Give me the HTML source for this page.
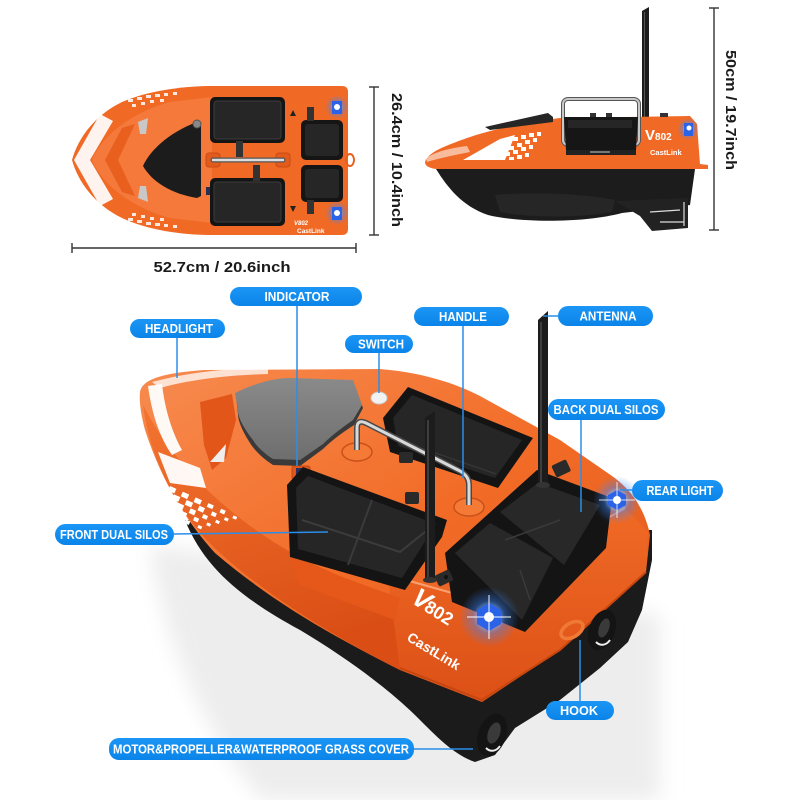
<!DOCTYPE html>
<html><head><meta charset="utf-8">
<style>
html,body{margin:0;padding:0;background:#fff;}
svg{display:block;}
.lbl{font-family:"Liberation Sans",sans-serif;font-weight:bold;font-size:12.5px;fill:#fff;}
.dim{font-family:"Liberation Sans",sans-serif;font-weight:bold;font-size:15px;fill:#1a1a1a;}
.logo{font-family:"Liberation Sans",sans-serif;font-weight:bold;fill:#fff;}
</style></head><body>
<svg width="800" height="800" viewBox="0 0 800 800" xmlns="http://www.w3.org/2000/svg">
<defs>
<linearGradient id="body" x1="0" y1="0" x2="1" y2="1">
 <stop offset="0" stop-color="#f78b50"/>
 <stop offset="0.5" stop-color="#f26c27"/>
 <stop offset="1" stop-color="#e0561b"/>
</linearGradient>
<linearGradient id="side" x1="0" y1="0" x2="0.3" y2="1">
 <stop offset="0" stop-color="#f3732f"/>
 <stop offset="1" stop-color="#d94d14"/>
</linearGradient>
<linearGradient id="stern" x1="0" y1="0" x2="0" y2="1">
 <stop offset="0" stop-color="#f06a26"/>
 <stop offset="1" stop-color="#dc5016"/>
</linearGradient>
<radialGradient id="glow">
 <stop offset="0" stop-color="#ffffff" stop-opacity="1"/>
 <stop offset="0.2" stop-color="#bfe0ff" stop-opacity="0.95"/>
 <stop offset="0.55" stop-color="#3a86ff" stop-opacity="0.4"/>
 <stop offset="1" stop-color="#3a86ff" stop-opacity="0"/>
</radialGradient>
<linearGradient id="pill" x1="0" y1="0" x2="0" y2="1">
 <stop offset="0" stop-color="#1b96f6"/>
 <stop offset="1" stop-color="#0a84e8"/>
</linearGradient>
<linearGradient id="grey" x1="0" y1="0" x2="0" y2="1">
 <stop offset="0" stop-color="#8a8a8a"/>
 <stop offset="1" stop-color="#6e6e6e"/>
</linearGradient>
<filter id="blur" x="-20%" y="-20%" width="140%" height="140%"><feGaussianBlur stdDeviation="10"/></filter>
</defs>

<rect width="800" height="800" fill="#fff"/>

<!-- ============ TOP VIEW ============ -->
<g>
<path d="M72,160 C78,138 95,115 122,102 C150,90 185,86 213,86 L342,86 Q348,86 348,92 L348,229 Q348,235 342,235 L213,235 C185,235 150,231 122,218 C95,205 78,182 72,160 Z" fill="#f06a26"/>
<path d="M92,160 C102,136 130,113 170,102 L212,97 L212,223 L170,218 C130,207 102,184 92,160 Z" fill="#f4793a"/>
<path d="M105,160 L122,128 L135,124 L118,160 L135,196 L122,192 Z" fill="#e85f1e"/>
<path d="M100,114 L74,160 L100,206 L113,199 L90,160 L113,121 Z" fill="#fff" opacity="0.92"/>
<path d="M138,122 L148,118 L146,134 L140,134 Z" fill="#c8c8c8"/>
<path d="M138,198 L148,202 L146,186 L140,186 Z" fill="#c8c8c8"/>
<g fill="#fff" opacity="0.85">
 <rect x="128" y="99" width="5" height="3"/><rect x="137" y="97" width="5" height="3"/><rect x="146" y="95" width="5" height="3"/><rect x="155" y="94" width="5" height="3"/><rect x="164" y="93" width="4" height="3"/><rect x="173" y="92" width="4" height="3"/>
 <rect x="132" y="104" width="4" height="3"/><rect x="141" y="102" width="4" height="3"/><rect x="150" y="100" width="4" height="3"/><rect x="160" y="99" width="4" height="3"/>
 <rect x="128" y="218" width="5" height="3"/><rect x="137" y="220" width="5" height="3"/><rect x="146" y="222" width="5" height="3"/><rect x="155" y="223" width="5" height="3"/><rect x="164" y="224" width="4" height="3"/><rect x="173" y="225" width="4" height="3"/>
 <rect x="132" y="213" width="4" height="3"/><rect x="141" y="215" width="4" height="3"/><rect x="150" y="217" width="4" height="3"/><rect x="160" y="218" width="4" height="3"/>
</g>
<path d="M143,166 C150,150 170,132 197,122 L201,124 L201,196 L197,198 C172,194 152,182 143,166 Z" fill="#1c1c1c"/>
<circle cx="197" cy="124" r="4" fill="#888" stroke="#555" stroke-width="1"/>
<rect x="206" y="187" width="5" height="8" fill="#2a3050"/>
<rect x="210" y="97" width="75" height="46" rx="5" fill="#151515"/>
<rect x="214" y="101" width="67" height="38" rx="3" fill="#262626" stroke="#3c3c3c"/>
<rect x="210" y="178" width="75" height="48" rx="5" fill="#151515"/>
<rect x="214" y="182" width="67" height="40" rx="3" fill="#262626" stroke="#3c3c3c"/>
<rect x="236" y="141" width="7" height="16" fill="#333"/>
<rect x="253" y="165" width="7" height="16" fill="#333"/>
<rect x="206" y="153" width="14" height="14" rx="3" fill="#e25a1c" stroke="#c84c14"/>
<rect x="276" y="153" width="14" height="14" rx="3" fill="#e25a1c" stroke="#c84c14"/>
<line x1="213" y1="160" x2="283" y2="160" stroke="#555" stroke-width="5" stroke-linecap="round"/>
<line x1="213" y1="160" x2="283" y2="160" stroke="#ddd" stroke-width="2.5" stroke-linecap="round"/>
<rect x="301" y="120" width="42" height="40" rx="5" fill="#151515"/>
<rect x="305" y="124" width="34" height="32" rx="3" fill="#262626"/>
<rect x="301" y="165" width="42" height="37" rx="5" fill="#151515"/>
<rect x="305" y="169" width="34" height="29" rx="3" fill="#262626"/>
<rect x="307" y="107" width="7" height="14" fill="#333"/>
<rect x="307" y="200" width="7" height="14" fill="#333"/>
<path d="M290,116 L296,116 L293,110 Z" fill="#222"/>
<path d="M290,206 L296,206 L293,212 Z" fill="#222"/>
<ellipse cx="350" cy="160" rx="4" ry="6" fill="none" stroke="#e86020" stroke-width="2"/>
<circle cx="337" cy="107" r="12" fill="url(#glow)"/>
<rect x="332" y="101" width="10" height="13" fill="#2a62e8"/>
<circle cx="337" cy="107" r="3" fill="#fff"/>
<circle cx="337" cy="213" r="12" fill="url(#glow)"/>
<rect x="332" y="207" width="10" height="13" fill="#2a62e8"/>
<circle cx="337" cy="213" r="3" fill="#fff"/>
<text x="294" y="225" class="logo" font-size="6" font-style="italic">V802</text>
<text x="297" y="233" class="logo" font-size="6.5">CastLink</text>
</g>

<g stroke="#333" stroke-width="1.4">
<line x1="72" y1="248" x2="356" y2="248"/>
<line x1="72" y1="243" x2="72" y2="253"/>
<line x1="356" y1="243" x2="356" y2="253"/>
<line x1="374" y1="87" x2="374" y2="235"/>
<line x1="369" y1="87" x2="379" y2="87"/>
<line x1="369" y1="235" x2="379" y2="235"/>
<line x1="714" y1="8" x2="714" y2="230"/>
<line x1="709" y1="8" x2="719" y2="8"/>
<line x1="709" y1="230" x2="719" y2="230"/>
</g>
<text x="222" y="272" class="dim" text-anchor="middle" textLength="137" lengthAdjust="spacingAndGlyphs">52.7cm / 20.6inch</text>
<text transform="translate(392,160) rotate(90)" class="dim" text-anchor="middle" textLength="134" lengthAdjust="spacingAndGlyphs">26.4cm / 10.4inch</text>
<text transform="translate(726,110) rotate(90)" class="dim" text-anchor="middle" textLength="120" lengthAdjust="spacingAndGlyphs">50cm / 19.7inch</text>

<!-- ============ SIDE VIEW ============ -->
<g>
<polygon points="642,11 649,7 649,120 642,120" fill="#1c1c1c"/>
<line x1="644.5" y1="12" x2="644.5" y2="118" stroke="#555" stroke-width="1"/>
<path d="M425,162 C428,152 445,146 467,138 C490,130 525,122 560,118 L690,116 L697,124 L700,164 L708,165 L708,169 L436,169 C429,168 425,166 425,162 Z" fill="#f06a26"/>
<path d="M426,158 C435,152 450,148 467,146 L470,152 C455,155 440,158 427,162 Z" fill="#fff" opacity="0.55"/>
<path d="M436,169 C448,188 462,206 488,215 C520,223 585,223 622,213 L690,205 L695,169 Z" fill="#1c1c1c"/>
<path d="M495,195 C530,192 580,193 615,200 L612,212 C580,218 530,218 500,212 Z" fill="#262626"/>
<polygon points="615,201 688,198 688,228 652,231 640,216" fill="#222"/>
<g stroke="#ddd" stroke-width="1.2"><line x1="650" y1="212" x2="680" y2="210"/><line x1="660" y1="222" x2="684" y2="222"/><line x1="684" y1="202" x2="684" y2="226"/></g>
<path d="M485,127 L548,113 L553,117 L553,122 L490,130 Z" fill="#262626"/>
<path d="M463,160 L500,139 L515,135 L505,160 Z" fill="#fff"/>
<g fill="#fff">
 <rect x="505" y="140" width="5" height="4"/><rect x="513" y="137" width="5" height="4"/><rect x="521" y="135" width="5" height="4"/><rect x="529" y="133" width="5" height="4"/><rect x="537" y="132" width="4" height="4"/>
 <rect x="509" y="146" width="5" height="4"/><rect x="517" y="143" width="5" height="4"/><rect x="525" y="140" width="5" height="4"/><rect x="533" y="138" width="4" height="4"/>
 <rect x="505" y="152" width="5" height="4"/><rect x="513" y="150" width="5" height="4"/><rect x="521" y="147" width="5" height="4"/><rect x="529" y="145" width="4" height="4"/>
 <rect x="509" y="157" width="5" height="3"/><rect x="517" y="155" width="5" height="4"/><rect x="525" y="153" width="4" height="4"/>
</g>
<rect x="563" y="99" width="76" height="46" rx="5" fill="none" stroke="#555" stroke-width="4"/>
<rect x="563" y="99" width="76" height="46" rx="5" fill="none" stroke="#c8c8c8" stroke-width="2"/>
<rect x="590" y="113" width="6" height="5" fill="#333"/><rect x="606" y="113" width="6" height="5" fill="#333"/>
<rect x="660" y="113" width="8" height="4" fill="#333"/>
<polygon points="564,117 638,117 636,150 566,150" fill="#161616"/>
<rect x="568" y="120" width="64" height="8" fill="#262626"/>
<rect x="566" y="150" width="70" height="5" fill="#222"/>
<rect x="590" y="151" width="20" height="2" fill="#777"/>
<circle cx="688" cy="129" r="11" fill="url(#glow)"/>
<rect x="684" y="123" width="9" height="13" fill="#2a62e8"/>
<circle cx="689" cy="128" r="2.5" fill="#fff"/>
<text x="645" y="140" class="logo"><tspan font-size="15">V</tspan><tspan font-size="10">802</tspan></text>
<text x="650" y="155" class="logo" font-size="7.5">CastLink</text>
</g>

<!-- ============ MAIN BOAT ============ -->
<path d="M150,545 C165,650 210,740 262,800 L660,800 L660,615 L560,600 Z" fill="#ededed" filter="url(#blur)"/>
<path d="M185,520 C205,570 245,600 300,630 C350,660 390,690 420,720 C440,740 455,755 475,762 L495,755 L515,728 L560,700 L600,668 L628,642 L642,610 L652,560 L652,530 Z" fill="#1b1b1b"/>
<path d="M140,392 C142,380 160,373 205,370 L380,369 C420,372 455,383 480,396 L560,440 L612,476 C632,490 645,510 650,535 L646,572 L560,650 L482,702 L400,670 C330,635 270,600 215,553 C180,515 158,470 145,430 C141,415 139,402 140,392 Z" fill="url(#body)"/>
<path d="M143,405 C150,460 178,515 220,553 C270,598 335,637 400,670 L402,598 C340,580 285,553 245,522 C200,488 165,448 143,405 Z" fill="url(#side)" opacity="0.95"/>
<path d="M388,575 L470,598 L625,508 L648,532 L646,572 L560,650 L482,702 L400,670 Z" fill="url(#stern)"/>
<path d="M388,575 L470,598 L625,508" fill="none" stroke="#f9a070" stroke-width="2"/>
<path d="M400,668 L482,700 L560,650 L646,572" fill="none" stroke="#c7460f" stroke-width="2"/>
<path d="M290,558 L400,598 L395,620 L300,585 Z" fill="#e5581a"/>
<path d="M148,386 C152,415 160,438 172,455 L182,450 C172,432 165,410 162,384 Z" fill="#fff" opacity="0.95"/>
<path d="M152,382 C190,372 230,368 268,368 L268,374 C230,375 192,379 160,388 Z" fill="#fff" opacity="0.75"/>
<path d="M200,402 L232,394 L236,420 L226,458 L212,470 L204,445 Z" fill="#e2561a"/>
<path d="M210,462 L226,444 L224,462 Z" fill="#eee"/>
<path d="M158,452 L200,468 L206,488 L170,483 Z" fill="#fff" opacity="0.95"/>
<g fill="#fff" transform="translate(170,486) rotate(24)">
 <rect x="0" y="0" width="7" height="5"/><rect x="14" y="0" width="7" height="5"/><rect x="28" y="0" width="7" height="5"/><rect x="42" y="0" width="6" height="4"/><rect x="56" y="0" width="5" height="4"/><rect x="70" y="1" width="4" height="3"/>
 <rect x="7" y="6" width="7" height="5"/><rect x="21" y="6" width="7" height="5"/><rect x="35" y="6" width="6" height="5"/><rect x="49" y="6" width="5" height="4"/><rect x="63" y="6" width="4" height="3"/>
 <rect x="0" y="12" width="7" height="5"/><rect x="14" y="12" width="7" height="5"/><rect x="28" y="12" width="6" height="5"/><rect x="42" y="12" width="5" height="4"/><rect x="56" y="12" width="4" height="3"/>
 <rect x="7" y="18" width="7" height="5"/><rect x="21" y="18" width="6" height="5"/><rect x="35" y="18" width="5" height="4"/><rect x="49" y="18" width="4" height="3"/>
 <rect x="14" y="24" width="6" height="4"/><rect x="28" y="24" width="5" height="4"/><rect x="42" y="24" width="4" height="3"/>
</g>
<path d="M236,396 C255,385 275,379 290,379 L353,381 L363,408 L354,425 C340,434 330,442 323,449 L300,466 L273,465 C262,458 255,450 252,446 C244,434 238,422 238,414 Z" fill="#3a3a3a"/>
<path d="M235,393 C255,383 275,378 290,378 L353,380 L362,405 L353,420 C340,429 330,437 323,444 L300,460 L273,459 C262,452 255,444 253,440 C245,430 238,418 238,411 Z" fill="url(#grey)"/>
<ellipse cx="379" cy="398" rx="8" ry="6" fill="#f2f2f2" stroke="#c9c9c9"/>
<rect x="292" y="466" width="18" height="13" rx="2" fill="#e0561b" stroke="#c04a12"/>
<rect x="296" y="468" width="10" height="9" fill="#2c2f5c"/>
<path d="M383,418 L408,387 L533,438 L498,488 L390,452 Z" fill="#141414"/>
<path d="M393,418 L412,395 L522,440 L495,478 L398,446 Z" fill="#262626"/>
<line x1="398" y1="440" x2="496" y2="474" stroke="#3a3a3a" stroke-width="1"/>
<rect x="399" y="452" width="14" height="11" rx="2" fill="#2a2a2a"/>
<rect x="405" y="492" width="14" height="12" rx="2" fill="#2a2a2a"/>
<ellipse cx="357" cy="452" rx="15" ry="9" fill="#f47a35" stroke="#c9501a" stroke-width="1.5"/>
<ellipse cx="469" cy="507" rx="15" ry="9" fill="#f47a35" stroke="#c9501a" stroke-width="1.5"/>
<path d="M357,450 L357,428 Q357,419 366,423 L460,471 Q469,476 469,485 L469,505" fill="none" stroke="#4a4a4a" stroke-width="6"/>
<path d="M357,450 L357,428 Q357,419 366,423 L460,471 Q469,476 469,485 L469,505" fill="none" stroke="#d9d9d9" stroke-width="3"/>
<path d="M287,485 L303,467 L447,520 L442,537 L405,590 L290,557 Z" fill="#141414"/>
<path d="M296,488 L308,476 L436,524 L402,578 L298,549 Z" fill="#262626"/>
<path d="M302,520 L400,552 L430,528" fill="none" stroke="#3c3c3c" stroke-width="2"/>
<line x1="372" y1="500" x2="348" y2="565" stroke="#3a3a3a" stroke-width="2"/>
<path d="M445,553 L537,470 L612,498 L606,548 L525,632 L452,602 Z" fill="#141414"/>
<path d="M500,512 L538,483 L600,505 L564,565 Z" fill="#282828"/>
<path d="M455,553 L490,523 L553,558 L522,620 Z" fill="#282828"/>
<path d="M505,540 L560,520 M520,570 L530,600" stroke="#3a3a3a" stroke-width="1.5" fill="none"/>
<rect x="553" y="462" width="16" height="13" rx="2" fill="#2a2a2a" transform="rotate(-25 561 468)"/>
<rect x="436" y="572" width="16" height="12" rx="2" fill="#2a2a2a" transform="rotate(-25 444 578)"/>
<circle cx="446" cy="577" r="2" fill="#111"/>
<polygon points="538,320 548,311 548,485 538,485" fill="#1c1c1c"/>
<line x1="541" y1="322" x2="541" y2="483" stroke="#555" stroke-width="1.2"/>
<ellipse cx="543" cy="485" rx="7" ry="3" fill="#333"/>
<polygon points="425,418 435,411 435,580 425,580" fill="#1c1c1c"/>
<line x1="428" y1="420" x2="428" y2="578" stroke="#555" stroke-width="1.2"/>
<ellipse cx="430" cy="580" rx="7" ry="3" fill="#333"/>
<text transform="translate(410,602) rotate(32)" class="logo"><tspan font-size="26" font-style="italic">V</tspan><tspan font-size="18" dx="-2">802</tspan></text>
<text transform="translate(406,640) rotate(31)" class="logo" font-size="14">CastLink</text>
<ellipse cx="572" cy="630" rx="12" ry="7" fill="none" stroke="#f07a35" stroke-width="3.5" transform="rotate(-30 572 630)"/>
<ellipse cx="492" cy="735" rx="14" ry="22" fill="#141414" transform="rotate(20 492 735)"/>
<ellipse cx="494" cy="733" rx="6" ry="11" fill="#3a3a3a" transform="rotate(20 494 733)"/>
<path d="M486,748 C490,752 496,752 500,746" fill="none" stroke="#eee" stroke-width="2"/>
<ellipse cx="602" cy="630" rx="13" ry="21" fill="#141414" transform="rotate(20 602 630)"/>
<ellipse cx="604" cy="628" rx="5" ry="10" fill="#3a3a3a" transform="rotate(20 604 628)"/>
<path d="M596,642 C600,646 606,646 610,640" fill="none" stroke="#eee" stroke-width="2"/>
<circle cx="617" cy="500" r="24" fill="url(#glow)"/>
<polygon points="617,490 626,495 626,505 617,510 608,505 608,495" fill="#2a62e8"/>
<circle cx="617" cy="500" r="4" fill="#fff"/>
<path d="M617,482 L617,518 M599,500 L635,500" stroke="#fff" stroke-width="1" opacity="0.8"/>
<circle cx="489" cy="617" r="30" fill="url(#glow)"/>
<polygon points="489,603 501,610 501,624 489,631 477,624 477,610" fill="#2a62e8"/>
<circle cx="489" cy="617" r="5" fill="#fff"/>
<path d="M489,595 L489,639 M467,617 L511,617" stroke="#fff" stroke-width="1.2" opacity="0.8"/>

<!-- ============ LEADER LINES ============ -->
<g stroke="#2a8eea" stroke-width="1.5" fill="none">
<line x1="177" y1="338" x2="177" y2="378"/>
<line x1="297" y1="306" x2="297" y2="466"/>
<line x1="379" y1="353" x2="379" y2="393"/>
<line x1="463" y1="326" x2="463" y2="478"/>
<line x1="558" y1="316" x2="543" y2="316"/>
<line x1="581" y1="420" x2="581" y2="512"/>
<line x1="632" y1="490" x2="620" y2="490"/>
<line x1="174" y1="534" x2="328" y2="532"/>
<line x1="580" y1="701" x2="580" y2="640"/>
<line x1="413" y1="749" x2="473" y2="749"/>
</g>

<!-- ============ PILLS ============ -->
<g>
<rect x="230" y="287" width="132" height="19" rx="9.5" fill="url(#pill)"/>
<text x="297" y="301" class="lbl" text-anchor="middle" textLength="65" lengthAdjust="spacingAndGlyphs">INDICATOR</text>
<rect x="130" y="319" width="95" height="19" rx="9.5" fill="url(#pill)"/>
<text x="179" y="333" class="lbl" text-anchor="middle" textLength="68" lengthAdjust="spacingAndGlyphs">HEADLIGHT</text>
<rect x="345" y="335" width="68" height="18" rx="9" fill="url(#pill)"/>
<text x="381" y="348.5" class="lbl" text-anchor="middle" textLength="46" lengthAdjust="spacingAndGlyphs">SWITCH</text>
<rect x="414" y="307" width="95" height="19" rx="9.5" fill="url(#pill)"/>
<text x="463" y="321" class="lbl" text-anchor="middle" textLength="48" lengthAdjust="spacingAndGlyphs">HANDLE</text>
<rect x="558" y="306" width="95" height="20" rx="10" fill="url(#pill)"/>
<text x="608" y="320.5" class="lbl" text-anchor="middle" textLength="57" lengthAdjust="spacingAndGlyphs">ANTENNA</text>
<rect x="548" y="399" width="117" height="21" rx="10.5" fill="url(#pill)"/>
<text x="606" y="414" class="lbl" text-anchor="middle" textLength="105" lengthAdjust="spacingAndGlyphs">BACK DUAL SILOS</text>
<rect x="632" y="480" width="91" height="21" rx="10.5" fill="url(#pill)"/>
<text x="680" y="495" class="lbl" text-anchor="middle" textLength="67" lengthAdjust="spacingAndGlyphs">REAR LIGHT</text>
<rect x="55" y="524" width="119" height="21" rx="10.5" fill="url(#pill)"/>
<text x="114" y="539" class="lbl" text-anchor="middle" textLength="108" lengthAdjust="spacingAndGlyphs">FRONT DUAL SILOS</text>
<rect x="546" y="701" width="68" height="19" rx="9.5" fill="url(#pill)"/>
<text x="579" y="715" class="lbl" text-anchor="middle" textLength="38" lengthAdjust="spacingAndGlyphs">HOOK</text>
<rect x="109" y="738" width="305" height="22" rx="10" fill="url(#pill)"/>
<text x="261" y="753.5" class="lbl" text-anchor="middle" textLength="296" lengthAdjust="spacingAndGlyphs">MOTOR&amp;PROPELLER&amp;WATERPROOF GRASS COVER</text>
</g>
</svg>
</body></html>
